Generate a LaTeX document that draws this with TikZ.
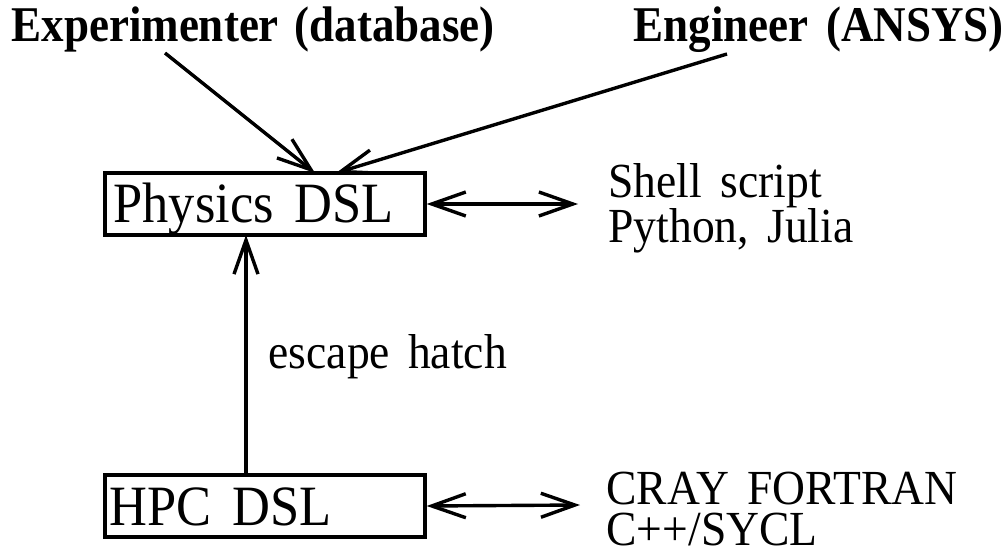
\documentclass[tikz,border=0pt]{standalone}
\usepackage{fontspec}
\setmainfont{Liberation Serif}
\usetikzlibrary{arrows.meta}
\begin{document}
\begin{tikzpicture}[x=1pt,y=-1pt,
  line width=3.4pt,
  barb/.style={-{Straight Barb[length=34pt,width=24pt,line width=3.4pt]}},
  dbarb/.style={{Straight Barb[length=34pt,width=24pt,line width=3.4pt]}-{Straight Barb[length=34pt,width=24pt,line width=3.4pt]}},
  dslbox/.style={draw,line width=3.4pt,minimum width=320pt,minimum height=62pt,inner sep=0pt},
  boxtext/.style={anchor=base west,inner sep=0pt,xscale=0.92,font=\fontsize{57}{60}\selectfont},
  toplabel/.style={anchor=base west,inner sep=0pt,xscale=0.9,font=\fontsize{50}{50}\selectfont\bfseries},
  sidetext/.style={anchor=base west,inner sep=0pt,xscale=0.93,align=left,font=\fontsize{49}{41}\selectfont}]
\useasboundingbox (0,0) rectangle (1004,548);
% boxes
\node[dslbox] (phys) at (265,204) {};
\node[dslbox] (hpc) at (265,506) {};
\node[boxtext] (physt) at (112,223) {Physics\hspace{0.4em}DSL};
\node[boxtext] (hpct) at (108,525) {HPC\hspace{0.4em}DSL};
% top labels
\node[toplabel] (exp) at (10,42) {Experimenter\hspace{0.35em}(database)};
\node[toplabel] (eng) at (632,42) {Engineer\hspace{0.4em}(ANSYS)};
% side texts (anchor = baseline of last line)
\node[sidetext] (shell) at (607,243) {Shell\hspace{0.4em}script\\Python,\hspace{0.4em}Julia};
\node[sidetext] (cray) at (605,545) {CRAY\hspace{0.4em}FORTRAN\\C++/SYCL};
\node[sidetext] (esc) at (267,368) {escape\hspace{0.4em}hatch};
% connector endpoints
\coordinate (expS) at (165,53);
\coordinate (engS) at (727,54);
\coordinate (expT) at (315,173);
\coordinate (engT) at (336,173);
\coordinate (physR) at (phys.east);
\coordinate (hpcR) at (hpc.east);
\coordinate (shellL) at (578,204);
\coordinate (crayL) at (580,505);
\coordinate (vb) at (246,475);
\coordinate (vt) at (246,235);
\draw[barb] (expS) -- (expT);
\draw[barb] (engS) -- (engT);
\draw[dbarb] (physR) -- (shellL);
\draw[dbarb] (hpcR) -- (crayL);
\draw[barb] (vb) -- (vt);
\end{tikzpicture}
\end{document}
